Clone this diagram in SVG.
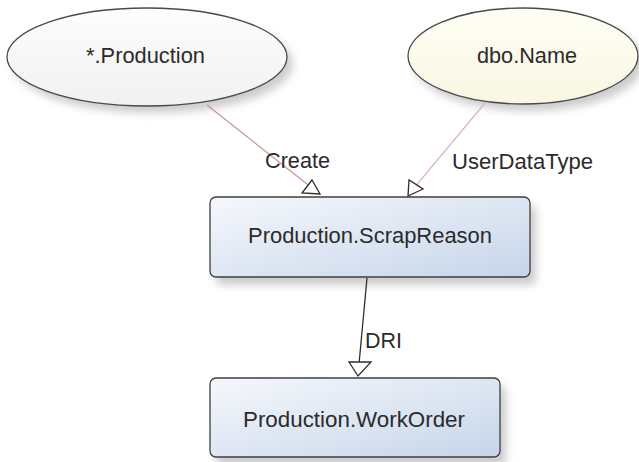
<svg xmlns="http://www.w3.org/2000/svg" width="639" height="462" viewBox="0 0 639 462">
  <style>
    .lbl { font-family: "Liberation Sans", Arial, sans-serif; font-size: 21.7px; fill: #2b2b2b; }
    .ell { stroke: #4a4a4a; stroke-width: 1.3; }
    .box { stroke: #3f3f3f; stroke-width: 1.3; fill: url(#boxGrad); }
    .head { fill: #ffffff; stroke: #2e2e2e; stroke-width: 1.3; stroke-linejoin: miter; }
  </style>
  <defs>
    <linearGradient id="boxGrad" x1="0" y1="0" x2="1" y2="1">
      <stop offset="0" stop-color="#f6f8fc"/>
      <stop offset="1" stop-color="#c6d5ea"/>
    </linearGradient>
    <linearGradient id="ellGrey" x1="0" y1="0" x2="0" y2="1">
      <stop offset="0" stop-color="#fdfdfd"/>
      <stop offset="1" stop-color="#f1f1f1"/>
    </linearGradient>
    <linearGradient id="ellYellow" x1="0" y1="0" x2="0" y2="1">
      <stop offset="0" stop-color="#fefef5"/>
      <stop offset="1" stop-color="#f9f7e2"/>
    </linearGradient>
    <filter id="shadow" x="-20%" y="-30%" width="140%" height="170%">
      <feGaussianBlur stdDeviation="4"/>
    </filter>
  </defs>

  <rect width="639" height="462" fill="#ffffff"/>

  <!-- shadows -->
  <g fill="#9a9a9a" opacity="0.5" filter="url(#shadow)">
    <ellipse cx="153" cy="64" rx="140" ry="49"/>
    <ellipse cx="529" cy="63" rx="115" ry="48"/>
    <rect x="216" y="205" width="320" height="80" rx="6"/>
    <rect x="216" y="386" width="290" height="80" rx="6"/>
  </g>

  <g id="connectors">
    <line x1="207" y1="105" x2="312" y2="188" stroke="#c59595" stroke-width="1.2"/>
    <polygon class="head" points="320,194 302,193 312,180"/>
    <line x1="485" y1="103" x2="414" y2="188" stroke="#dcb2cc" stroke-width="1.2"/>
    <polygon class="head" points="408,196 409,180 423,189"/>
    <line x1="367" y1="278" x2="359" y2="364" stroke="#2e2e2e" stroke-width="1.3"/>
    <polygon class="head" points="358,376 349,362 371,362"/>
    <text class="lbl" x="265" y="168" textLength="65" lengthAdjust="spacingAndGlyphs">Create</text>
    <text class="lbl" x="452" y="169" textLength="141" lengthAdjust="spacingAndGlyphs">UserDataType</text>
    <text class="lbl" x="365" y="348" textLength="37" lengthAdjust="spacingAndGlyphs">DRI</text>
  </g>

  <g id="node-production">
    <ellipse class="ell" cx="147" cy="57" rx="140" ry="49" fill="url(#ellGrey)"/>
    <text class="lbl" x="86" y="63" textLength="119" lengthAdjust="spacingAndGlyphs">*.Production</text>
  </g>

  <g id="node-dboname">
    <ellipse class="ell" cx="523" cy="56" rx="115" ry="48" fill="url(#ellYellow)"/>
    <text class="lbl" x="477" y="63" textLength="100" lengthAdjust="spacingAndGlyphs">dbo.Name</text>
  </g>

  <g id="node-scrapreason">
    <rect class="box" x="210" y="197" width="320" height="80" rx="6"/>
    <text class="lbl" x="248" y="243" textLength="244" lengthAdjust="spacingAndGlyphs">Production.ScrapReason</text>
  </g>

  <g id="node-workorder">
    <rect class="box" x="210" y="378" width="290" height="79" rx="6"/>
    <text class="lbl" x="243" y="427" textLength="222" lengthAdjust="spacingAndGlyphs">Production.WorkOrder</text>
  </g>
</svg>
